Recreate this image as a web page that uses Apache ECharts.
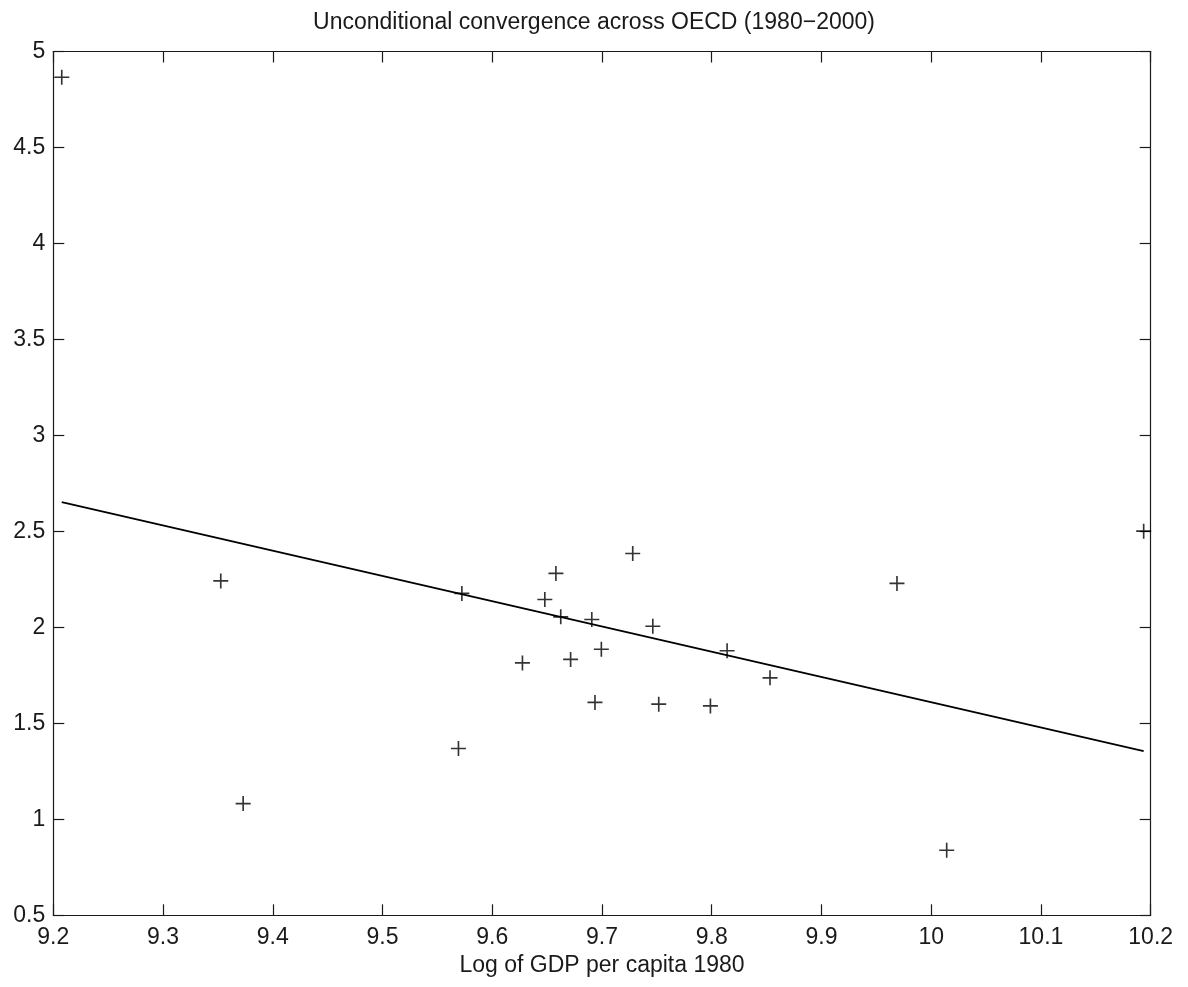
<!DOCTYPE html>
<html>
<head>
<meta charset="utf-8">
<script src="https://cdn.jsdelivr.net/npm/echarts@6/dist/echarts.min.js"></script>
<style>
html,body{margin:0;padding:0;background:#fff;}
#chart{width:1188px;height:987px;}
</style>
</head>
<body>
<div id="chart"></div>
<script>
// Log of GDP per capita 1980
var gdpLog1980 = [9.2077, 9.3526, 9.3730, 9.5692, 9.5723, 9.6275, 9.6479, 9.6580, 9.6624, 9.6714,
                  9.6907, 9.6936, 9.6994, 9.7280, 9.7463, 9.7517, 9.7988, 9.8140, 9.8531, 9.9688,
                  10.0141, 10.1936];
// Growth 1980-2000
var growth = [4.866, 2.242, 1.082, 1.369, 2.177, 1.815, 2.145, 2.281, 2.055, 1.833,
              2.041, 1.609, 1.886, 2.385, 2.006, 1.600, 1.591, 1.878, 1.737, 2.229,
              0.839, 2.501];
// Fitted regression line endpoints
var fitX = [9.2077, 10.1936];
var fitY = [2.652, 1.355];

var xTicks = {min: 9.2, max: 10.2, interval: 0.1};
var yTicks = {min: 0.5, max: 5, interval: 0.5};

var titleText = 'Unconditional convergence across OECD (1980\u22122000)';
var xName = 'Log of GDP per capita 1980';

var FONT = '"Liberation Sans", Arial, sans-serif';
var INK = '#1a1a1a';
var FS = 23;

var points = gdpLog1980.map(function (x, i) { return [x, growth[i]]; });
var fitLine = fitX.map(function (x, i) { return [x, fitY[i]]; });

var plus = 'path://M0,8.9H20V11.1H0Z M8.9,0H11.1V20H8.9Z';

function axisCommon(extra) {
  var base = {
    type: 'value',
    axisLine: {show: true, onZero: false, lineStyle: {color: INK, width: 1.2}},
    axisTick: {show: true, inside: true, length: 11, lineStyle: {color: INK, width: 1.2}},
    splitLine: {show: false},
    axisLabel: {show: false}
  };
  for (var k in extra) base[k] = extra[k];
  return base;
}

var chart = echarts.init(document.getElementById('chart'), null, {renderer: 'canvas'});
chart.setOption({
  backgroundColor: '#ffffff',
  animation: false,
  title: {
    text: titleText,
    left: 'center',
    top: 6,
    textStyle: {fontFamily: FONT, fontSize: FS, fontWeight: 'normal', color: INK}
  },
  grid: {left: 53.3, right: 37.3, top: 51.5, bottom: 71.7, containLabel: false},
  xAxis: [
    axisCommon({
      position: 'bottom', min: xTicks.min, max: xTicks.max, interval: xTicks.interval,
      name: xName, nameLocation: 'middle', nameGap: 38,
      nameTextStyle: {fontFamily: FONT, fontSize: FS, color: INK},
      axisLabel: {show: true, margin: 11, fontFamily: FONT, fontSize: FS, color: INK,
                  showMinLabel: true, showMaxLabel: true}
    }),
    axisCommon({position: 'top', min: xTicks.min, max: xTicks.max, interval: xTicks.interval})
  ],
  yAxis: [
    axisCommon({
      position: 'left', min: yTicks.min, max: yTicks.max, interval: yTicks.interval,
      axisLabel: {show: true, margin: 8, fontFamily: FONT, fontSize: FS, color: INK,
                  showMinLabel: true, showMaxLabel: true}
    }),
    axisCommon({position: 'right', min: yTicks.min, max: yTicks.max, interval: yTicks.interval})
  ],
  series: [
    {
      type: 'scatter',
      xAxisIndex: 0, yAxisIndex: 0,
      data: points,
      symbol: plus,
      symbolSize: 15,
      itemStyle: {color: '#000'},
      z: 3
    },
    {
      type: 'line',
      xAxisIndex: 0, yAxisIndex: 0,
      data: fitLine,
      showSymbol: false,
      symbol: 'none',
      lineStyle: {color: '#000', width: 1.8},
      z: 2
    }
  ]
});
</script>
</body>
</html>
